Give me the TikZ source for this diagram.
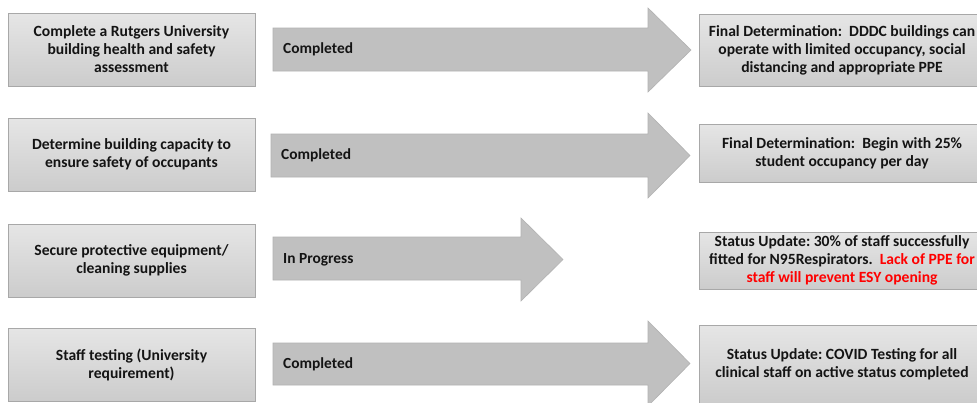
\documentclass[tikz,border=0pt]{standalone}
\usepackage{fontspec}
\setmainfont{Carlito}
\frenchspacing
\definecolor{txt}{HTML}{141414}
\definecolor{boxedge}{HTML}{A8A8A8}
\definecolor{arrfill}{HTML}{C0C0C0}
\definecolor{arredge}{HTML}{B2B2B2}
\definecolor{warn}{HTML}{FF0000}
\tikzset{
  panel/.style={draw=boxedge, line width=0.8pt, top color=gray!20, bottom color=gray!40,
    align=center, text=txt, font=\bfseries\fontsize{15.6}{18}\selectfont, inner sep=0pt},
  arrowshape/.style={fill=arrfill, draw=arredge, line width=0.6pt},
  arrlabel/.style={anchor=west, text=txt, font=\bfseries\fontsize{15.4}{17}\selectfont, inner sep=0pt}
}
\begin{document}
\begin{tikzpicture}[x=1pt,y=-1pt]
\useasboundingbox (0,0) rectangle (977,402);
\clip (0,0) rectangle (977,402);
\fill[white] (0,0) rectangle (977,402);

% left boxes
\node[panel, minimum width=247pt, minimum height=73pt] (l1) at (131.5,49.5) {Complete a Rutgers University\\building health and safety\\assessment};
\node[panel, minimum width=247pt, minimum height=73pt] (l2) at (131.5,154.5) {Determine building capacity to\\ensure safety of occupants};
\node[panel, minimum width=247pt, minimum height=73pt] (l3) at (131.5,260.5) {Secure protective equipment/\\cleaning supplies};
\node[panel, minimum width=247pt, minimum height=73pt] (l4) at (131.5,364.5) {Staff testing (University\\requirement)};

% arrows
\draw[arrowshape] (273,28) -- (648,28) -- (648,8) -- (691,50) -- (648,92) -- (648,71) -- (273,71) -- cycle;
\node[arrlabel] (a1) at (283,49.5) {Completed};
\draw[arrowshape] (271,134) -- (648,134) -- (648,113) -- (690,155.5) -- (648,198) -- (648,177) -- (271,177) -- cycle;
\node[arrlabel] (a2) at (281,155.5) {Completed};
\draw[arrowshape] (273,237) -- (521,237) -- (521,218) -- (563,259.5) -- (521,301) -- (521,280) -- (273,280) -- cycle;
\node[arrlabel] (a3) at (283,259.5) {In Progress};
\draw[arrowshape] (273,343) -- (648,343) -- (648,321) -- (690,363.5) -- (648,406) -- (648,385) -- (273,385) -- cycle;
\node[arrlabel] (a4) at (283,364) {Completed};

% right boxes
\node[panel, minimum width=286pt, minimum height=72pt] (r1) at (842,50) {Final Determination:\ \ DDDC buildings can\\operate with limited occupancy, social\\distancing and appropriate PPE};
\node[panel, minimum width=286pt, minimum height=58pt] (r2) at (842,153) {Final Determination:\ \ Begin with 25\%\\student occupancy per day};
\node[panel, minimum width=286pt, minimum height=57pt] (r3) at (842,260.5) {Status Update: 30\% of staff successfully\\fitted for N95Respirators.\ \ \textcolor{warn}{Lack of PPE for}\\\textcolor{warn}{staff will prevent ESY opening}};
\node[panel, minimum width=286pt, minimum height=78pt] (r4) at (842,364) {Status Update: COVID Testing for all\\clinical staff on active status completed};
\end{tikzpicture}
\end{document}
